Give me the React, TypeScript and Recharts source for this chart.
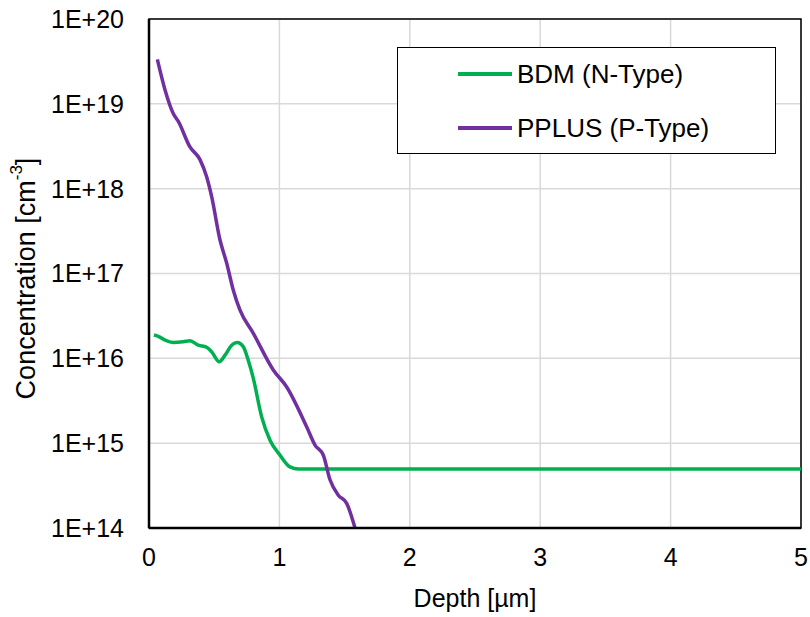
import { LineChart, Line, XAxis, YAxis, CartesianGrid, ReferenceArea } from "recharts";

const font = "'Liberation Sans', Arial, sans-serif";

// depth in µm, concentration in cm^-3
const bdmDepth = [0.038, 0.071, 0.123, 0.186, 0.263, 0.314, 0.378, 0.442, 0.481, 0.539, 0.583, 0.634, 0.677, 0.723, 0.761, 0.8, 0.864, 0.928, 1.005, 1.081, 1.145, 1.5, 2, 3, 4, 5];
const bdmConc = [1.88e16, 1.82e16, 1.64e16, 1.54e16, 1.57e16, 1.61e16, 1.43e16, 1.35e16, 1.19e16, 9.1e15, 1.09e16, 1.43e16, 1.54e16, 1.37e16, 9.5e15, 5.8e15, 2.04e15, 1.08e15, 7.2e14, 5.25e14, 4.95e14, 4.95e14, 4.95e14, 4.95e14, 4.95e14, 4.95e14];

const pplusDepth = [0.064, 0.123, 0.186, 0.225, 0.314, 0.391, 0.442, 0.481, 0.544, 0.596, 0.646, 0.698, 0.8, 0.953, 1.056, 1.209, 1.273, 1.337, 1.388, 1.452, 1.516, 1.58];
const pplusConc = [3.35e19, 1.46e19, 7.7e18, 6.2e18, 3.1e18, 2.2e18, 1.38e18, 8.0e17, 2.5e17, 1.32e17, 6.4e16, 3.7e16, 1.97e16, 7.3e15, 4.6e15, 1.56e15, 9.5e14, 7.2e14, 3.7e14, 2.44e14, 1.95e14, 1.0e14];

const xTicks = [0, 1, 2, 3, 4, 5];
const yTicks = [1e14, 1e15, 1e16, 1e17, 1e18, 1e19, 1e20];

const bdm = bdmDepth.map((d, i) => ({ depth: d, conc: bdmConc[i] }));
const pplus = pplusDepth.map((d, i) => ({ depth: d, conc: pplusConc[i] }));

const series = [
  { name: "BDM (N-Type)", color: "#00B050", data: bdm },
  { name: "PPLUS (P-Type)", color: "#7030A0", data: pplus },
];

function YLabel({ viewBox }: any) {
  const cy = viewBox.y + viewBox.height / 2 + 5;
  return (
    <text
      x={26}
      y={cy}
      transform={`rotate(-90, 26, ${cy})`}
      textAnchor="middle"
      dominantBaseline="central"
      fontFamily={font}
      fontSize={27}
      fill="#000"
    >
      Concentration [cm<tspan dy={-10} fontSize={17}>-3</tspan>
      <tspan dy={10}>]</tspan>
    </text>
  );
}

export default function App() {
  return (
    <div style={{ position: "absolute", left: 0, top: 0, width: 810, height: 617, background: "#fff" }}>
      <LineChart width={810} height={617} margin={{ top: 19, right: 9, bottom: 0, left: 0 }}>
        <CartesianGrid stroke="#d9d9d9" strokeWidth={1.5} />
        <ReferenceArea
          x1={0}
          x2={5}
          y1={1e14}
          y2={1e20}
          fill="none"
          stroke="#000"
          strokeWidth={1.5}
          ifOverflow="visible"
        />
        <XAxis
          type="number"
          dataKey="depth"
          domain={[0, 5]}
          ticks={xTicks}
          height={89}
          tickLine={false}
          tickSize={6}
          tickMargin={14}
          axisLine={{ stroke: "#000", strokeWidth: 2.5 }}
          tick={{ fontFamily: font, fontSize: 25, fill: "#000" }}
          label={{ value: "Depth [µm]", position: "insideBottom", offset: 10, fontFamily: font, fontSize: 25, fill: "#000" }}
          allowDuplicatedCategory={false}
        />
        <YAxis
          type="number"
          scale="log"
          dataKey="conc"
          domain={[1e14, 1e20]}
          ticks={yTicks}
          width={149}
          tickLine={false}
          tickSize={6}
          tickMargin={19}
          axisLine={{ stroke: "#000", strokeWidth: 2.5 }}
          tick={{ fontFamily: font, fontSize: 25, fill: "#000" }}
          tickFormatter={(v: number) => "1E+" + Math.round(Math.log10(v))}
          allowDataOverflow
          label={<YLabel />}
        />
        {series.map((s) => (
          <Line
            key={s.name}
            data={s.data}
            dataKey="conc"
            name={s.name}
            type="monotone"
            stroke={s.color}
            strokeWidth={3.5}
            dot={false}
            isAnimationActive={false}
          />
        ))}
      </LineChart>
      <div
        style={{
          position: "absolute",
          left: 397,
          top: 47,
          width: 379,
          height: 107,
          border: "1.5px solid #000",
          boxSizing: "border-box",
          background: "#fff",
          fontFamily: font,
          fontSize: 26,
        }}
      >
        {series.map((s, i) => (
          <div
            key={s.name}
            style={{ position: "absolute", left: 60, top: 11 + i * 54, display: "flex", alignItems: "center", height: 30 }}
          >
            <div style={{ width: 54, height: 3.5, background: s.color, marginRight: 5 }} />
            <span>{s.name}</span>
          </div>
        ))}
      </div>
    </div>
  );
}
